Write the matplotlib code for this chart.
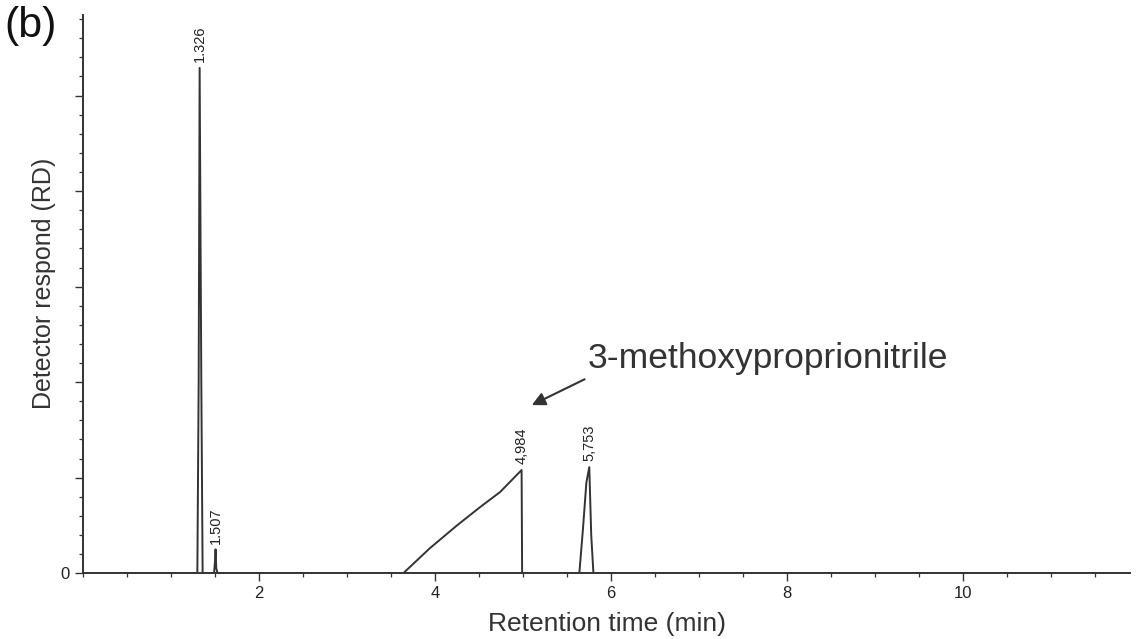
import matplotlib.pyplot as plt
from matplotlib.ticker import MultipleLocator, FixedLocator

plt.rcParams['font.family'] = ['Liberation Sans', 'DejaVu Sans']

# trace (time in min, response in major-tick units)
trace_time = [0.0, 1.30, 1.315, 1.326, 1.345, 1.36, 1.49, 1.50, 1.507, 1.515,
              1.53, 3.64, 3.94, 4.25, 4.51, 4.74, 4.984, 4.99, 5.64, 5.68,
              5.72, 5.753, 5.775, 5.80, 11.9]
trace_resp = [0.0, 0.0, 2.0, 5.29, 2.0, 0.0, 0.0, 0.12, 0.25, 0.05,
              0.0, 0.0, 0.26, 0.50, 0.69, 0.85, 1.08, 0.0, 0.0, 0.45,
              0.95, 1.11, 0.4, 0.0, 0.0]

peak_times = [1.326, 1.507, 4.984, 5.753]
peak_heights = [5.29, 0.25, 1.08, 1.11]
peak_labels = ['1.326', '1.507', '4,984', '5,753']

compound = '3-methoxyproprionitrile'

fig = plt.figure(figsize=(11.36, 6.39), dpi=100)
ax = fig.add_axes([0.073, 0.103, 0.922, 0.873])

line_color = '#333333'
ax.plot(trace_time, trace_resp, color=line_color, lw=1.4, zorder=3)

for t, h, lab in zip(peak_times, peak_heights, peak_labels):
    ax.text(t, h + 0.06, lab, rotation=90, ha='center', va='bottom',
            fontsize=10.5, color='#222222')

# arrow pointing at the 4.984 peak, label text to its right
ax.annotate('', xy=(5.10, 1.76), xytext=(5.70, 2.03),
            arrowprops=dict(arrowstyle='-|>', color='#333333', lw=1.5,
                            mutation_scale=20, shrinkA=0, shrinkB=0))
ax.text(5.74, 2.25, compound, fontsize=25.5, color='#333333',
        va='center', ha='left')

ax.set_xlim(0, 11.9)
ax.set_ylim(0, 5.84)
ax.spines['top'].set_visible(False)
ax.spines['right'].set_visible(False)
for s in ('left', 'bottom'):
    ax.spines[s].set_color(line_color)
    ax.spines[s].set_linewidth(1.4)

ax.xaxis.set_major_locator(FixedLocator([2, 4, 6, 8, 10]))
ax.xaxis.set_minor_locator(MultipleLocator(0.5))
ax.yaxis.set_minor_locator(MultipleLocator(0.2))
ax.set_yticks(range(0, 6))
ax.set_yticklabels(['0', '', '', '', '', ''])
ax.tick_params(which='major', length=6, width=1.0, colors=line_color,
               labelsize=12, labelcolor='#222222')
ax.tick_params(which='minor', length=3, width=0.9, colors=line_color)

ax.set_xlabel('Retention time (min)', fontsize=19, color='#333333', labelpad=8)
ax.set_ylabel('Detector respond (RD)', fontsize=18, color='#333333')
ax.yaxis.set_label_coords(-0.026, 0.52)

fig.text(0.004, 0.99, '(b)', fontsize=31, color='#111111', va='top', ha='left')

fig.savefig('out.png', dpi=100)
